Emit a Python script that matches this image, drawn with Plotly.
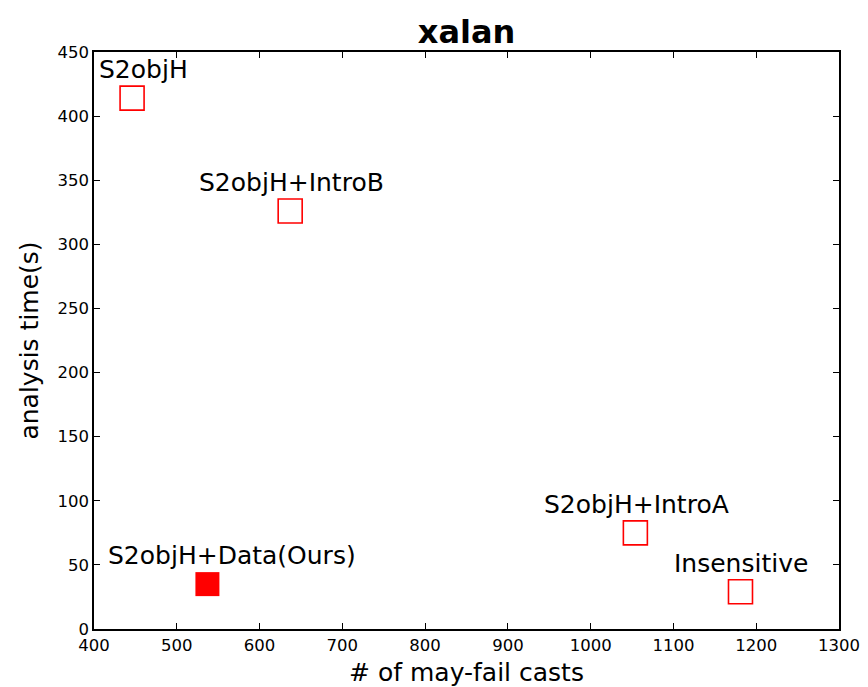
import plotly.graph_objects as go

# Analysis configurations for xalan
configs = ["S2objH", "S2objH+IntroB", "S2objH+Data(Ours)", "S2objH+IntroA", "Insensitive"]
may_fail_casts = [446, 637, 537, 1054, 1181]
analysis_time = [414, 326, 35, 75, 29]
is_ours = [False, False, True, False, False]

# horizontal nudge of each text label (pixels)
label_xshift = [11, 1, 25, 1, 1]

FONT = "DejaVu Sans"
RED = "#ff0000"

fig = go.Figure()

others_x = [x for x, o in zip(may_fail_casts, is_ours) if not o]
others_y = [y for y, o in zip(analysis_time, is_ours) if not o]
ours_x = [x for x, o in zip(may_fail_casts, is_ours) if o]
ours_y = [y for y, o in zip(analysis_time, is_ours) if o]

fig.add_trace(go.Scatter(
    x=others_x, y=others_y, mode="markers",
    marker=dict(symbol="square-open", size=24, color=RED, line=dict(width=1.6, color=RED)),
    hoverinfo="skip", showlegend=False,
))
fig.add_trace(go.Scatter(
    x=ours_x, y=ours_y, mode="markers",
    marker=dict(symbol="square", size=24, color=RED, line=dict(width=0)),
    hoverinfo="skip", showlegend=False,
))

for name, x, y, dx in zip(configs, may_fail_casts, analysis_time, label_xshift):
    fig.add_annotation(
        x=x, y=y, text=name, showarrow=False,
        xanchor="center", yanchor="bottom", xshift=dx, yshift=12,
        font=dict(family=FONT, size=25, color="black"),
    )

axis_common = dict(
    showgrid=False, zeroline=False, automargin=False,
    showline=True, linecolor="black", linewidth=1.5, mirror="ticks",
    ticks="inside", ticklen=6, tickwidth=1, tickcolor="black",
    tickfont=dict(family=FONT, size=16.5, color="black"),
)

fig.update_xaxes(
    range=[400, 1300], dtick=100, tick0=400,
    title=dict(text="# of may-fail casts", font=dict(family=FONT, size=25, color="black"), standoff=14),
    **axis_common,
)
fig.update_yaxes(
    range=[0, 450], dtick=50, tick0=0,
    title=dict(text="analysis time(s)", font=dict(family=FONT, size=25, color="black"), standoff=12),
    **axis_common,
)

fig.update_layout(
    width=868, height=687,
    margin=dict(l=94, r=29, t=52, b=58, pad=0),
    paper_bgcolor="white", plot_bgcolor="white",
    title=dict(text="<b>xalan</b>", x=0.5375, xanchor="center", y=0.953, yanchor="middle",
               font=dict(family=FONT, size=32, color="black")),
)

fig.write_html("out.html")
